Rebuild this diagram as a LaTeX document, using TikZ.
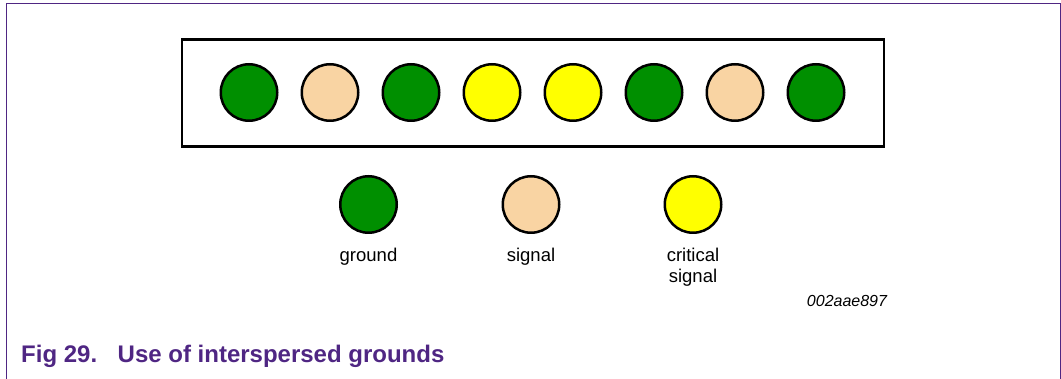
\documentclass[tikz,border=0pt]{standalone}
\usepackage{fontspec}
\setmainfont{Liberation Sans}

\definecolor{gndgreen}{RGB}{0,143,0}
\definecolor{sigpeach}{RGB}{249,212,163}
\definecolor{crityellow}{RGB}{255,255,0}
\definecolor{figpurple}{RGB}{79,38,131}

\tikzset{
	pad/.style={circle,draw=black,line width=2.5pt,minimum size=56.5pt,inner sep=0pt},
	padlabel/.style={anchor=north,inner sep=0pt,align=center,font=\fontsize{18.5}{21}\selectfont},
}

\begin{document}
\begin{tikzpicture}[x=1pt,y=-1pt]
\useasboundingbox (0,0) rectangle (1061,379);

%Rahmen
\draw[figpurple,line width=1.5pt] (6.5,379) -- (6.5,3.5) -- (1060.5,3.5) -- (1060.5,379);

%Stecker
\draw[line width=2.6pt] (182,39.5) rectangle (884,146.5);

%Pins in einer Reihe
\foreach \n/\x/\c in
{
1/249/gndgreen,
2/330/sigpeach,
3/411/gndgreen,
4/492/crityellow,
5/573/crityellow,
6/654/gndgreen,
7/735/sigpeach,
8/816/gndgreen%
}
{
	\node[pad,fill=\c] (pin\n) at (\x,92.5) {};
}

%Legende
\foreach \n/\x/\c/\t in
{
gnd/368.5/gndgreen/ground,
sig/531/sigpeach/signal,
crit/693/crityellow/critical\\signal%
}
{
	\node[pad,fill=\c] (key\n) at (\x,204.5) {};
	\node[padlabel] (text\n) at (\x,247.5) {\t};
}

\node[anchor=base,font=\fontsize{16}{19}\selectfont\itshape] (code) at (847,307) {002aae897};

%Bildunterschrift
\node[anchor=base west,inner sep=0pt,text=figpurple,font=\fontsize{24}{28}\selectfont\bfseries] (fignum) at (21,363) {Fig 29.};
\node[anchor=base west,inner sep=0pt,text=figpurple,font=\fontsize{24}{28}\selectfont\bfseries] (figtitle) at (117.5,363) {Use of interspersed grounds};

\end{tikzpicture}
\end{document}
